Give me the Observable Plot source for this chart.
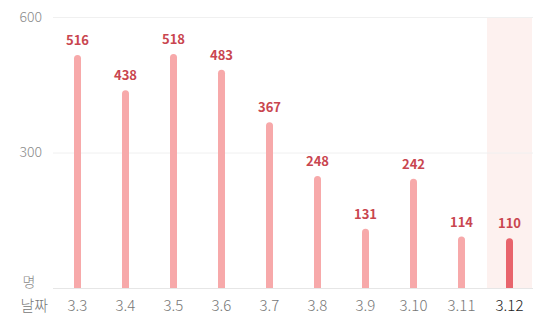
<!DOCTYPE html>
<html><head><meta charset="utf-8">
<script src="https://cdn.jsdelivr.net/npm/d3@7"></script>
<script src="https://cdn.jsdelivr.net/npm/@observablehq/plot@0.6"></script>
<style>body{margin:0;background:#fff;} svg{font-family:"Noto Sans CJK KR","Open Sans",sans-serif;}</style>
</head><body><div id="chart"></div>
<script>
const dates = ["3.3","3.4","3.5","3.6","3.7","3.8","3.9","3.10","3.11","3.12"];
const counts = [516,438,518,483,367,248,131,242,114,110];
const yTicks = [0,300,600];
const yTickLabels = ["명","300","600"];
const xTitle = "날짜";
const highlight = "3.12";

const data = dates.map((d,i)=>({date:d, value:counts[i]}));
const yLabels = yTicks.map((t,i)=>({tick:t, label:yTickLabels[i]}));
const font = '"Noto Sans CJK KR","Open Sans",sans-serif';
const barColor = d => d.date===highlight ? "#e8646c" : "#f7a9aa";

const chart = Plot.plot({
  width: 550, height: 333,
  marginTop: 17, marginBottom: 45, marginLeft: 53, marginRight: 17,
  style: {fontFamily: font, background: "#fff"},
  x: {domain: dates, padding: 0, axis: null},
  y: {domain: [0,600], axis: null},
  marks: [
    Plot.barY([highlight], {x: d=>d, y1: 0, y2: 600, fill: "#fdf1ef", insetLeft: 2, insetRight: 1}),
    Plot.ruleY(yTicks.slice(1), {stroke: "#f0f0f0", strokeWidth: 1}),
    Plot.ruleY([0], {stroke: "#e6e6e6", strokeWidth: 1}),
    Plot.text(yLabels.filter(d=>d.tick!==0), {frameAnchor: "left", y: "tick", text: "label", textAnchor: "start", dx: -34, fill: "#8a8a8a", fontSize: 14, fontWeight: 300}),
    Plot.text(yLabels.filter(d=>d.tick===0), {frameAnchor: "left", y: "tick", text: "label", textAnchor: "start", dx: -31, dy: -6, fill: "#8a8a8a", fontSize: 14, fontWeight: 300}),
    Plot.ruleX(data, {x: "date", y1: 0, y2: "value", dy: 3.5, stroke: barColor, strokeWidth: 7, strokeLinecap: "round", clip: true}),
    Plot.text(data, {x: "date", y: "value", text: d=>String(d.value), dy: -14.5, fill: "#c9464f", fontWeight: "bold", fontSize: 13}),
    Plot.text(dates, {x: d=>d, frameAnchor: "bottom", dy: 22, text: d=>d, fill: d => d===highlight ? "#222" : "#777", fontSize: 15, fontWeight: 300}),
    Plot.text([xTitle], {frameAnchor: "bottom-left", dy: 22, text: d=>d, textAnchor: "start", dx: -33, fill: "#777", fontSize: 15, fontWeight: 300})
  ]
});
document.getElementById("chart").appendChild(chart);
</script></body></html>
